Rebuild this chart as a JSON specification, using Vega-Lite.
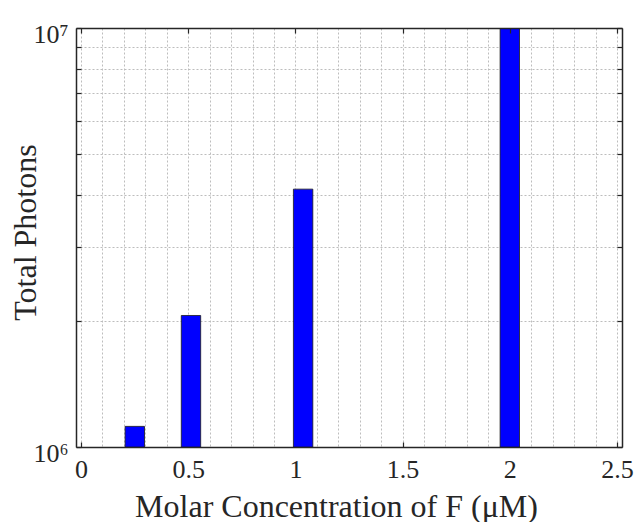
{
  "$schema": "https://vega.github.io/schema/vega-lite/v6.json",
  "width": 546,
  "height": 419,
  "autosize": {"type": "none"},
  "padding": {"left": 76, "top": 28, "right": 17, "bottom": 75},
  "background": "white",
  "config": {
    "view": {"stroke": null},
    "font": "Liberation Serif",
    "axis": {
      "labelFont": "Liberation Serif",
      "titleFont": "Liberation Serif",
      "labelColor": "#262626",
      "titleColor": "#262626",
      "labelFontSize": 26,
      "titleFontSize": 32,
      "titleFontWeight": "normal",
      "domainColor": "#262626",
      "domainWidth": 1.5,
      "tickColor": "#262626",
      "tickWidth": 1.2,
      "gridColor": "#bdbdbd",
      "gridDash": [2, 2],
      "gridWidth": 1,
      "labelFlush": false,
      "labelOverlap": false
    }
  },
  "data": {
    "values": [
      {"conc": 0.251, "photons": 1120000},
      {"conc": 0.513, "photons": 2060000},
      {"conc": 1.036, "photons": 4125000},
      {"conc": 2.0, "photons": 10000000}
    ]
  },
  "layer": [
    {
      "mark": {"type": "bar", "width": 19.4, "color": "#0000ff", "stroke": "#1a1a1a", "strokeWidth": 0.8, "clip": true},
      "encoding": {
        "x": {
          "field": "conc",
          "type": "quantitative",
          "scale": {"domain": [0, 2.5], "nice": false, "zero": false},
          "axis": {
            "orient": "bottom",
            "title": "Molar Concentration of F (μM)",
            "values": [0, 0.1, 0.2, 0.3, 0.4, 0.5, 0.6, 0.7, 0.8, 0.9, 1, 1.1, 1.2, 1.3, 1.4, 1.5, 1.6, 1.7, 1.8, 1.9, 2, 2.1, 2.2, 2.3, 2.4, 2.5],
            "labelExpr": "abs(datum.value*2 - round(datum.value*2)) < 0.001 ? format(datum.value, '~g') : ''",
            "tickOpacity": {"condition": {"test": "abs(datum.value*2 - round(datum.value*2)) < 0.001", "value": 1}, "value": 0},
            "tickSize": -5,
            "labelPadding": 14,
            "grid": true,
            "domain": true,
            "zindex": 0,
            "titleX": 260,
            "titleY": 69,
            "titleBaseline": "alphabetic",
            "titleAlign": "center"
          }
        },
        "y": {
          "field": "photons",
          "type": "quantitative",
          "scale": {"type": "log", "domain": [1000000, 10000000], "nice": false},
          "axis": {
            "orient": "left",
            "title": "Total Photons",
            "values": [1000000, 2000000, 3000000, 4000000, 5000000, 6000000, 7000000, 8000000, 9000000, 10000000],
            "labelExpr": "datum.value == 1000000 ? '10⁶' : (datum.value == 10000000 ? '10⁷' : '')",
            "tickSize": -5,
            "labelPadding": 13,
            "labelOffset": 6,
            "grid": true,
            "domain": true,
            "zindex": 0,
            "titleAngle": -90,
            "titleX": -41,
            "titleY": 204,
            "titleBaseline": "alphabetic",
            "titleAlign": "center"
          }
        },
        "y2": {"datum": 1000000}
      }
    },
    {
      "mark": {"type": "point", "opacity": 0},
      "encoding": {
        "x": {
          "field": "conc",
          "type": "quantitative",
          "axis": {
            "orient": "top",
            "title": null,
            "values": [0, 0.5, 1, 1.5, 2, 2.5],
            "labels": false,
            "grid": false,
            "tickSize": -5,
            "domain": true,
            "zindex": 1
          }
        },
        "y": {
          "field": "photons",
          "type": "quantitative",
          "axis": {
            "orient": "right",
            "title": null,
            "values": [1000000, 2000000, 3000000, 4000000, 5000000, 6000000, 7000000, 8000000, 9000000, 10000000],
            "labels": false,
            "grid": false,
            "tickSize": -5,
            "domain": true,
            "zindex": 1
          }
        }
      }
    }
  ],
  "resolve": {"axis": {"x": "independent", "y": "independent"}}
}
